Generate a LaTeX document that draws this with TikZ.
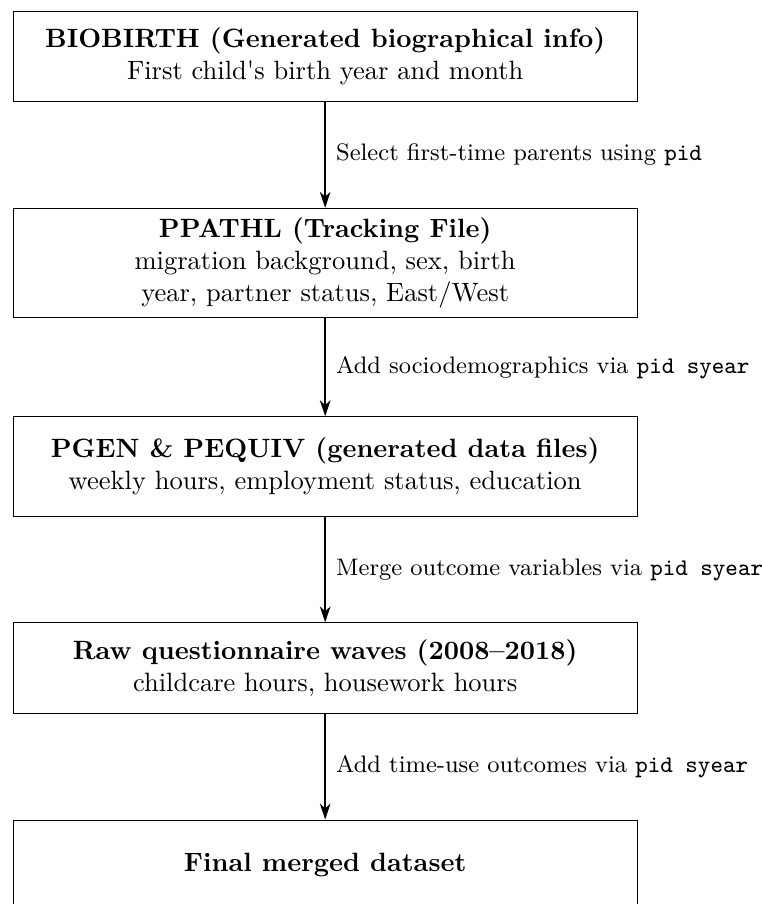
\documentclass[tikz,border=0pt]{standalone}
\usetikzlibrary{positioning, arrows.meta}

\begin{document}
\begin{tikzpicture}[%
		node distance=14mm,
		filebox/.style={
			rectangle,
			minimum width=235.5pt,
			minimum height=12mm,
			thin,
			black,
			align=center,
			draw
		},
		steplabel/.style={
			font=\small,
			right,
			xshift=0.5pt,
			align=left
		},
		mergearrow/.style={
			semithick,
			-{Stealth[length=6pt,width=4pt,inset=1.8pt]}
		}]

		\useasboundingbox (-122.7pt,21.3pt) rectangle ++(287.2pt,-341.1pt);

		% FILES

		\node (biobirth) [filebox] {\textbf{BIOBIRTH (Generated biographical info)} \\ First child\textquotesingle s birth year and month};
		\node (ppathl) [filebox, minimum height=14.5mm, below=of biobirth] {\textbf{PPATHL (Tracking File)} \\ migration background, sex, birth \\ year, partner status, East/West};
		\node (pgen) [filebox, minimum height=13.2mm, below=13mm of ppathl] {\textbf{PGEN \& PEQUIV (generated data files)} \\ weekly hours, employment status, education};
		\node (raw) [filebox, below=of pgen] {\textbf{Raw questionnaire waves (2008--2018)} \\ childcare hours, housework hours};
		\node (final) [filebox, below=of raw] {\textbf{Final merged dataset}};

		% MERGE STEPS

		\draw[mergearrow] (biobirth) -- node [steplabel] {Select first-time parents using \texttt{pid}} (ppathl);
		\draw[mergearrow] (ppathl) -- node [steplabel] {Add sociodemographics via \texttt{pid syear}} (pgen);
		\draw[mergearrow] (pgen) -- node [steplabel] {Merge outcome variables via \texttt{pid syear}} (raw);
		\draw[mergearrow] (raw) -- node [steplabel] {Add time-use outcomes via \texttt{pid syear}} (final);
\end{tikzpicture}
\end{document}
